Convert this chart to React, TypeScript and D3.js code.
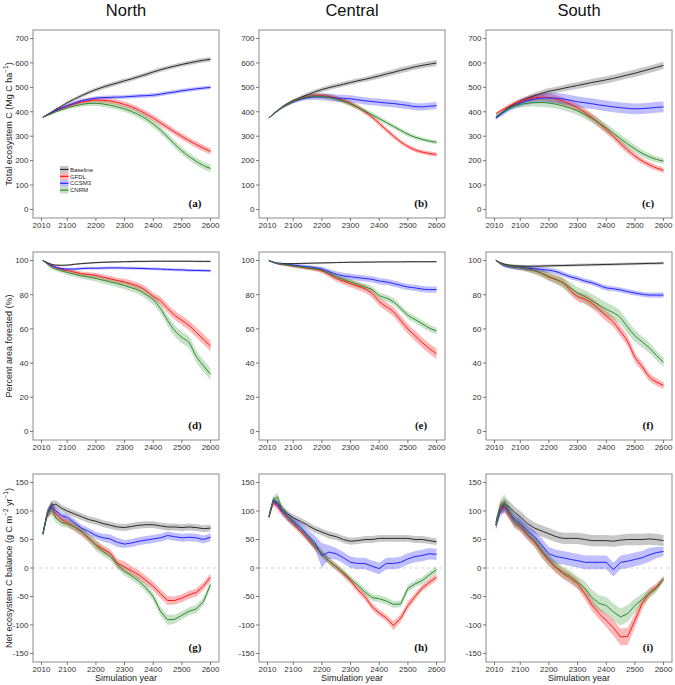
import React from 'react';
import * as d3 from 'd3';

// ---------------- DATA ----------------
const years = [2015, 2030, 2045, 2060, 2080, 2100, 2125, 2150, 2175, 2200, 2225, 2250, 2275, 2300, 2325, 2350, 2375, 2400, 2425, 2450, 2475, 2500, 2525, 2550, 2575, 2600];
const regions = ['North', 'Central', 'South'];
const seriesNames = ['Baseline', 'GFDL', 'CCSM3', 'CNRM'];
const panelLetters = ['a', 'b', 'c', 'd', 'e', 'f', 'g', 'h', 'i'];
const xTicks = [2010, 2100, 2200, 2300, 2400, 2500, 2600];
const tecTicks = [0, 100, 200, 300, 400, 500, 600, 700];
const pafTicks = [0, 20, 40, 60, 80, 100];
const nebTicks = [-150, -100, -50, 0, 50, 100, 150];

// Total ecosystem C (Mg C ha-1)
const tecNorthBaseline = [378, 388, 398, 410, 423, 437, 452, 466, 479, 491, 501, 510, 518, 527, 535, 544, 553, 563, 572, 580, 587, 594, 600, 606, 611, 615];
const tecNorthGFDL = [378, 386, 394, 403, 413, 422, 432, 440, 445, 448, 447, 444, 438, 430, 420, 407, 391, 374, 355, 336, 317, 299, 282, 266, 251, 238];
const tecNorthCCSM3 = [378, 387, 396, 406, 416, 425, 436, 445, 451, 456, 458, 459, 460, 461, 463, 465, 466, 468, 472, 477, 481, 486, 490, 494, 497, 500];
const tecNorthCNRM = [378, 385, 392, 400, 408, 416, 424, 430, 434, 435, 432, 427, 420, 412, 401, 388, 371, 350, 326, 297, 267, 240, 217, 197, 180, 168];
const tecNorthBaselineHw = [2, 3, 4, 5, 6, 7, 7, 8, 8, 9, 9, 9, 9, 9, 9, 9, 9, 9, 9, 9, 9, 9, 9, 9, 9, 9];
const tecNorthGFDLHw = [2, 3, 4, 5, 6, 7, 8, 9, 10, 10, 11, 11, 11, 12, 12, 12, 13, 13, 13, 13, 13, 13, 13, 13, 13, 13];
const tecNorthCCSM3Hw = [2, 3, 4, 5, 6, 7, 8, 8, 8, 8, 8, 8, 8, 8, 8, 8, 8, 8, 8, 8, 8, 8, 8, 8, 8, 8];
const tecNorthCNRMHw = [2, 3, 4, 5, 6, 7, 8, 9, 10, 11, 12, 12, 12, 13, 13, 14, 14, 15, 15, 15, 15, 15, 15, 15, 15, 15];

const tecCentralBaseline = [375, 390, 404, 418, 433, 445, 458, 470, 481, 491, 499, 506, 513, 520, 527, 533, 540, 547, 555, 562, 570, 577, 584, 590, 595, 600];
const tecCentralGFDL = [375, 390, 404, 417, 431, 443, 454, 462, 466, 466, 463, 456, 446, 434, 419, 400, 378, 352, 326, 300, 277, 258, 244, 235, 229, 225];
const tecCentralCCSM3 = [375, 390, 404, 417, 430, 441, 451, 458, 461, 461, 459, 456, 455, 453, 449, 445, 442, 439, 436, 434, 430, 426, 421, 420, 423, 425];
const tecCentralCNRM = [375, 390, 404, 417, 431, 443, 454, 461, 464, 463, 459, 452, 443, 432, 418, 403, 388, 372, 356, 340, 324, 308, 296, 287, 280, 275];
const tecCentralBaselineHw = [2, 3, 4, 5, 6, 7, 8, 9, 10, 10, 10, 10, 10, 10, 10, 10, 11, 11, 11, 11, 12, 12, 12, 12, 12, 12];
const tecCentralGFDLHw = [2, 3, 4, 5, 6, 7, 8, 9, 10, 10, 10, 10, 10, 10, 10, 10, 10, 10, 10, 10, 9, 9, 9, 9, 9, 9];
const tecCentralCCSM3Hw = [2, 3, 4, 5, 6, 7, 8, 10, 12, 14, 15, 15, 15, 15, 15, 15, 15, 15, 15, 15, 15, 15, 15, 15, 15, 15];
const tecCentralCNRMHw = [2, 3, 4, 5, 6, 7, 8, 9, 10, 10, 10, 10, 10, 10, 10, 10, 10, 10, 9, 9, 9, 9, 9, 8, 8, 8];

const tecSouthBaseline = [375, 390, 404, 417, 431, 443, 455, 466, 476, 484, 490, 496, 502, 508, 514, 520, 525, 531, 537, 544, 551, 558, 566, 574, 582, 590];
const tecSouthGFDL = [392, 403, 413, 423, 434, 443, 452, 458, 460, 458, 452, 443, 431, 416, 398, 377, 353, 327, 299, 270, 243, 219, 199, 183, 170, 160];
const tecSouthCCSM3 = [375, 388, 400, 412, 424, 435, 445, 452, 456, 457, 456, 452, 447, 441, 437, 433, 428, 424, 420, 417, 414, 412, 413, 415, 418, 420];
const tecSouthCNRM = [380, 392, 403, 413, 423, 430, 435, 438, 438, 436, 431, 424, 415, 404, 390, 373, 354, 334, 312, 290, 268, 248, 230, 216, 205, 198];
const tecSouthBaselineHw = [5, 6, 7, 8, 9, 10, 11, 12, 12, 13, 13, 13, 14, 14, 14, 14, 15, 15, 15, 15, 15, 15, 15, 15, 15, 15];
const tecSouthGFDLHw = [5, 6, 7, 8, 9, 10, 12, 14, 15, 16, 16, 16, 16, 16, 16, 16, 16, 16, 15, 15, 14, 13, 12, 12, 11, 11];
const tecSouthCCSM3Hw = [8, 9, 10, 11, 12, 14, 16, 18, 20, 22, 22, 22, 22, 22, 22, 22, 22, 22, 22, 22, 22, 22, 22, 22, 22, 22];
const tecSouthCNRMHw = [6, 7, 8, 9, 10, 12, 14, 16, 18, 18, 18, 18, 18, 18, 18, 18, 18, 18, 18, 17, 17, 16, 15, 14, 13, 12];

// Percent area forested (%)
const pafNorthBaseline = [100, 98.8, 97.8, 97.3, 97.2, 97.3, 97.8, 98.2, 98.5, 98.8, 99, 99.1, 99.2, 99.3, 99.4, 99.5, 99.5, 99.6, 99.6, 99.6, 99.6, 99.6, 99.6, 99.5, 99.5, 99.5];
const pafNorthGFDL = [100, 98.5, 97, 96, 94.8, 94.2, 93.2, 92.3, 91.8, 91.3, 90.3, 89.3, 88.3, 87.5, 86.3, 84.8, 82.5, 79, 76.5, 72, 68, 65, 62, 58, 54, 50];
const pafNorthCCSM3 = [100, 98.5, 97, 96, 95.3, 95, 95, 95.3, 95.5, 95.5, 95.6, 95.7, 95.7, 95.6, 95.5, 95.4, 95.3, 95.1, 95, 94.8, 94.6, 94.5, 94.3, 94.2, 94.1, 94];
const pafNorthCNRM = [100, 98, 96, 95, 94, 93, 92, 91, 90.3, 89.5, 88.5, 87.5, 86.5, 85.3, 84, 82.5, 80, 77, 72, 65, 59, 55, 52, 44, 38.5, 33.5];
const pafNorthBaselineHw = [0.3, 0.4, 0.5, 0.5, 0.5, 0.5, 0.5, 0.5, 0.5, 0.5, 0.5, 0.5, 0.5, 0.5, 0.5, 0.5, 0.5, 0.5, 0.5, 0.5, 0.5, 0.5, 0.5, 0.5, 0.5, 0.5];
const pafNorthGFDLHw = [0.3, 0.5, 0.7, 0.8, 1, 1, 1.2, 1.3, 1.4, 1.5, 1.5, 1.6, 1.7, 1.8, 1.9, 2, 2.1, 2.2, 2.3, 2.5, 2.6, 2.7, 2.8, 2.9, 3, 3];
const pafNorthCCSM3Hw = [0.3, 0.5, 0.6, 0.7, 0.8, 0.8, 0.8, 0.8, 0.8, 0.8, 0.8, 0.8, 0.8, 0.8, 0.8, 0.8, 0.8, 0.8, 0.8, 0.8, 0.8, 0.8, 0.8, 0.8, 0.8, 0.8];
const pafNorthCNRMHw = [0.3, 0.6, 0.9, 1.1, 1.3, 1.4, 1.5, 1.6, 1.7, 1.8, 1.9, 2, 2.1, 2.2, 2.3, 2.4, 2.5, 2.7, 2.9, 3.1, 3.3, 3.4, 3.5, 3.5, 3.5, 3.5];

const pafCentralBaseline = [100, 99, 98.5, 98.3, 98.2, 98.2, 98.3, 98.4, 98.5, 98.6, 98.7, 98.8, 98.9, 99, 99, 99.1, 99.1, 99.2, 99.2, 99.2, 99.2, 99.3, 99.3, 99.3, 99.3, 99.3];
const pafCentralGFDL = [100, 99, 98.2, 97.8, 97.3, 96.8, 96.2, 95.5, 95, 94, 92, 89.5, 88, 86.5, 85, 83.5, 80.7, 76, 73, 70, 65, 60, 56, 52, 48.5, 45.5];
const pafCentralCCSM3 = [100, 99, 98.3, 98, 97.7, 97.3, 96.8, 96.3, 95.8, 95, 93.5, 92, 91, 90.5, 90, 89.5, 89, 88, 87.5, 86.5, 85.5, 84.5, 84, 83.3, 83, 83];
const pafCentralCNRM = [100, 99, 98.3, 97.9, 97.4, 96.9, 96.3, 95.8, 95.2, 94.5, 92.5, 90.5, 88.8, 87.5, 86, 84.5, 83, 79.5, 78, 75.8, 72, 68, 65.5, 63, 60.5, 58.8];
const pafCentralBaselineHw = [0.3, 0.4, 0.4, 0.4, 0.4, 0.4, 0.4, 0.4, 0.4, 0.4, 0.4, 0.4, 0.4, 0.4, 0.4, 0.4, 0.4, 0.4, 0.4, 0.4, 0.4, 0.4, 0.4, 0.4, 0.4, 0.4];
const pafCentralGFDLHw = [0.3, 0.5, 0.6, 0.7, 0.8, 0.9, 1, 1.1, 1.2, 1.4, 1.6, 1.8, 2, 2.1, 2.2, 2.3, 2.4, 2.5, 2.6, 2.7, 2.8, 2.9, 3, 3, 3, 3];
const pafCentralCCSM3Hw = [0.3, 0.5, 0.6, 0.7, 0.8, 0.9, 1, 1.1, 1.2, 1.4, 1.6, 1.7, 1.8, 1.8, 1.8, 1.8, 1.8, 1.8, 1.8, 1.8, 1.8, 1.8, 1.8, 1.8, 1.8, 1.8];
const pafCentralCNRMHw = [0.3, 0.5, 0.6, 0.7, 0.8, 0.9, 1, 1.1, 1.2, 1.3, 1.4, 1.5, 1.6, 1.7, 1.8, 1.9, 2, 2, 2, 2, 2, 2, 2, 2, 2, 2];

const pafSouthBaseline = [100, 98.8, 97.8, 97.2, 96.8, 96.7, 96.6, 96.7, 96.8, 96.9, 97, 97.1, 97.2, 97.3, 97.4, 97.5, 97.6, 97.7, 97.8, 97.9, 98, 98.1, 98.2, 98.3, 98.4, 98.5];
const pafSouthGFDL = [100, 98.5, 97.3, 96.8, 96.3, 95.8, 95, 94, 92.5, 90.4, 88.8, 87, 82.5, 79, 77.5, 75, 71.5, 67.5, 64, 58.5, 52.5, 43.5, 38, 32, 29, 27];
const pafSouthCCSM3 = [100, 98.3, 97, 96.5, 96, 95.8, 95.5, 95.2, 94.8, 94.3, 93.5, 92, 90.5, 89.4, 88, 87, 85.5, 84, 83.5, 82.8, 81.8, 81, 80.3, 79.8, 79.8, 79.8];
const pafSouthCNRM = [100, 98.5, 97.3, 96.8, 96.3, 95.8, 95, 94, 92.5, 90.6, 89, 86.8, 84, 81, 79, 76.5, 74, 71.5, 69.5, 66.5, 61, 56, 52.5, 49, 44.5, 40.5];
const pafSouthBaselineHw = [0.3, 0.5, 0.7, 0.8, 0.8, 0.8, 0.8, 0.8, 0.8, 0.8, 0.8, 0.8, 0.8, 0.8, 0.8, 0.8, 0.8, 0.8, 0.8, 0.8, 0.8, 0.8, 0.8, 0.8, 0.8, 0.8];
const pafSouthGFDLHw = [0.3, 0.6, 0.8, 1, 1.2, 1.3, 1.5, 1.7, 1.9, 2.1, 2.3, 2.5, 2.7, 2.8, 2.9, 3, 3, 3, 3, 3, 3, 2.8, 2.6, 2.4, 2.2, 2];
const pafSouthCCSM3Hw = [0.3, 0.8, 1.1, 1.3, 1.4, 1.5, 1.5, 1.5, 1.5, 1.5, 1.5, 1.5, 1.5, 1.5, 1.5, 1.5, 1.5, 1.5, 1.5, 1.5, 1.5, 1.5, 1.5, 1.5, 1.5, 1.5];
const pafSouthCNRMHw = [0.3, 0.6, 0.8, 1, 1.2, 1.4, 1.7, 2, 2.3, 2.6, 2.9, 3.1, 3.3, 3.5, 3.7, 3.9, 4, 4, 4, 4, 3.8, 3.5, 3.2, 3, 2.8, 2.6];

// Net ecosystem C balance (g C m-2 yr-1)
const nebNorthBaseline = [60, 95, 110, 112, 105, 100, 95, 90, 85, 82, 78, 75, 72, 71, 73, 75, 76, 76, 74, 72, 72, 71, 72, 71, 69, 70];
const nebNorthGFDL = [60, 95, 105, 95, 85, 80, 72, 63, 52, 41, 33, 26, 8, 2, -5, -12, -22, -32, -45, -57, -57, -53, -47, -43, -32, -16];
const nebNorthCCSM3 = [60, 95, 108, 100, 92, 89, 80, 70, 64, 57, 53, 51, 45, 42, 44, 47, 49, 51, 53, 57, 55, 53, 54, 53, 50, 54];
const nebNorthCNRM = [60, 95, 105, 88, 80, 78, 72, 64, 53, 40, 29, 20, 6, -6, -14, -23, -35, -50, -76, -91, -90, -83, -76, -72, -59, -29];
const nebNorthBaselineHw = [5, 7, 8, 7, 6, 6, 6, 6, 6, 6, 6, 6, 6, 6, 6, 6, 6, 6, 6, 6, 6, 6, 6, 6, 6, 6];
const nebNorthGFDLHw = [5, 8, 10, 8, 7, 7, 7, 7, 7, 7, 7, 7, 8, 10, 8, 8, 8, 8, 8, 8, 7, 7, 7, 7, 7, 7];
const nebNorthCCSM3Hw = [5, 7, 9, 7, 6, 6, 6, 6, 6, 6, 7, 8, 8, 7, 7, 7, 7, 7, 7, 7, 7, 7, 7, 7, 7, 7];
const nebNorthCNRMHw = [5, 8, 12, 8, 7, 7, 7, 7, 7, 10, 8, 7, 7, 7, 7, 7, 7, 7, 8, 9, 8, 7, 7, 7, 7, 7];

const nebCentralBaseline = [90, 118, 115, 105, 95, 88, 82, 75, 68, 63, 58, 55, 50, 47, 48, 50, 50, 52, 52, 52, 52, 52, 50, 50, 48, 46];
const nebCentralGFDL = [90, 115, 108, 98, 88, 78, 65, 52, 38, 25, 12, 2, -10, -22, -38, -50, -68, -79, -88, -101, -88, -66, -50, -35, -25, -16];
const nebCentralCCSM3 = [90, 118, 112, 100, 90, 82, 72, 58, 45, 22, 28, 25, 18, 10, 8, 8, 3, -1, 8, 8, 10, 16, 20, 22, 25, 24];
const nebCentralCNRM = [90, 120, 125, 105, 90, 80, 68, 55, 40, 25, 12, 2, -8, -20, -30, -42, -52, -54, -58, -64, -63, -36, -28, -22, -12, -3];
const nebCentralBaselineHw = [5, 6, 6, 6, 6, 6, 6, 6, 6, 6, 6, 6, 6, 6, 6, 6, 6, 6, 6, 6, 6, 6, 6, 6, 6, 6];
const nebCentralGFDLHw = [5, 6, 6, 6, 6, 6, 6, 6, 6, 6, 6, 6, 6, 6, 6, 6, 6, 6, 6, 8, 7, 7, 6, 6, 6, 6];
const nebCentralCCSM3Hw = [5, 6, 6, 6, 8, 8, 8, 10, 12, 22, 12, 10, 10, 10, 10, 10, 10, 10, 10, 10, 10, 10, 10, 10, 10, 10];
const nebCentralCNRMHw = [5, 6, 7, 6, 6, 6, 6, 6, 8, 6, 6, 6, 6, 6, 6, 6, 6, 6, 6, 6, 6, 6, 6, 6, 6, 6];

const nebSouthBaseline = [80, 105, 112, 108, 98, 90, 78, 70, 65, 60, 55, 52, 52, 52, 50, 48, 48, 48, 47, 49, 50, 50, 50, 51, 50, 48];
const nebSouthGFDL = [75, 105, 108, 95, 80, 72, 58, 45, 28, 12, 0, -10, -18, -28, -45, -65, -80, -92, -105, -121, -120, -92, -63, -44, -33, -19];
const nebSouthCCSM3 = [75, 100, 108, 98, 85, 78, 65, 55, 40, 25, 20, 18, 15, 13, 10, 10, 10, 10, -3, 10, 12, 15, 18, 23, 27, 29];
const nebSouthCNRM = [75, 108, 115, 100, 80, 75, 60, 48, 30, 15, 2, -8, -15, -25, -35, -52, -62, -66, -77, -86, -80, -66, -55, -45, -36, -19];
const nebSouthBaselineHw = [8, 10, 10, 10, 10, 10, 10, 10, 10, 10, 10, 10, 10, 10, 10, 10, 10, 10, 10, 10, 10, 10, 10, 10, 10, 10];
const nebSouthGFDLHw = [8, 10, 10, 9, 9, 9, 9, 9, 9, 9, 9, 9, 9, 9, 10, 10, 10, 12, 14, 15, 15, 13, 10, 8, 6, 5];
const nebSouthCCSM3Hw = [8, 10, 10, 10, 10, 10, 10, 11, 12, 12, 12, 12, 12, 12, 12, 12, 12, 12, 12, 12, 12, 12, 12, 12, 10, 8];
const nebSouthCNRMHw = [8, 12, 15, 12, 10, 10, 10, 10, 12, 10, 10, 10, 10, 10, 12, 14, 14, 15, 15, 15, 15, 12, 10, 8, 6, 5];

// ---------------- STYLE / LAYOUT ----------------
const lineColors = ['#2b2b2b', '#ff1a1a', '#2424ff', '#2e8b2e'];
const fillColors = ['rgba(0,0,0,0.22)', 'rgba(255,0,0,0.28)', 'rgba(0,0,255,0.25)', 'rgba(34,139,34,0.25)'];
const colLefts = [33, 259, 486];
const rowTops = [30, 252, 474];
const PW = 186;
const PH = 188;
const FONT = 'Liberation Sans, Arial, sans-serif';

const rowsData = [
  {
    ticks: tecTicks, domain: [-35, 735], zero: false,
    regions: [
      [[tecNorthBaseline, tecNorthBaselineHw], [tecNorthGFDL, tecNorthGFDLHw], [tecNorthCCSM3, tecNorthCCSM3Hw], [tecNorthCNRM, tecNorthCNRMHw]],
      [[tecCentralBaseline, tecCentralBaselineHw], [tecCentralGFDL, tecCentralGFDLHw], [tecCentralCCSM3, tecCentralCCSM3Hw], [tecCentralCNRM, tecCentralCNRMHw]],
      [[tecSouthBaseline, tecSouthBaselineHw], [tecSouthGFDL, tecSouthGFDLHw], [tecSouthCCSM3, tecSouthCCSM3Hw], [tecSouthCNRM, tecSouthCNRMHw]],
    ],
  },
  {
    ticks: pafTicks, domain: [-5, 105], zero: false,
    regions: [
      [[pafNorthBaseline, pafNorthBaselineHw], [pafNorthGFDL, pafNorthGFDLHw], [pafNorthCCSM3, pafNorthCCSM3Hw], [pafNorthCNRM, pafNorthCNRMHw]],
      [[pafCentralBaseline, pafCentralBaselineHw], [pafCentralGFDL, pafCentralGFDLHw], [pafCentralCCSM3, pafCentralCCSM3Hw], [pafCentralCNRM, pafCentralCNRMHw]],
      [[pafSouthBaseline, pafSouthBaselineHw], [pafSouthGFDL, pafSouthGFDLHw], [pafSouthCCSM3, pafSouthCCSM3Hw], [pafSouthCNRM, pafSouthCNRMHw]],
    ],
  },
  {
    ticks: nebTicks, domain: [-165, 165], zero: true,
    regions: [
      [[nebNorthBaseline, nebNorthBaselineHw], [nebNorthGFDL, nebNorthGFDLHw], [nebNorthCCSM3, nebNorthCCSM3Hw], [nebNorthCNRM, nebNorthCNRMHw]],
      [[nebCentralBaseline, nebCentralBaselineHw], [nebCentralGFDL, nebCentralGFDLHw], [nebCentralCCSM3, nebCentralCCSM3Hw], [nebCentralCNRM, nebCentralCNRMHw]],
      [[nebSouthBaseline, nebSouthBaselineHw], [nebSouthGFDL, nebSouthGFDLHw], [nebSouthCCSM3, nebSouthCCSM3Hw], [nebSouthCNRM, nebSouthCNRMHw]],
    ],
  },
];

function Panel({ row, col }: { row: number; col: number }) {
  const rd = rowsData[row];
  const left = colLefts[col];
  const top = rowTops[row];
  const x = d3.scaleLinear().domain([1980.5, 2629.5]).range([left, left + PW]);
  const y = d3.scaleLinear().domain(rd.domain).range([top + PH, top]);
  const series = rd.regions[col];
  const curve = row === 2 ? d3.curveLinear : d3.curveMonotoneX;
  const letter = panelLetters[row * 3 + col];
  return (
    <g>
      <rect x={left} y={top} width={PW} height={PH} fill="#fff" />
      {rd.zero && (
        <line x1={left} x2={left + PW} y1={y(0)} y2={y(0)} stroke="#c8c8c8" strokeWidth={0.8} strokeDasharray="3,3" />
      )}
      {series.map(([vals, hw], si) => {
        const a = d3
          .area<number>()
          .x((_, i) => x(years[i]))
          .y0((v, i) => y(v - hw[i]))
          .y1((v, i) => y(v + hw[i]))
          .curve(curve);
        return <path key={'b' + si} d={a(vals) || ''} fill={fillColors[si]} stroke="none" />;
      })}
      {series.map(([vals], si) => {
        const l = d3
          .line<number>()
          .x((_, i) => x(years[i]))
          .y((v) => y(v))
          .curve(curve);
        return <path key={'l' + si} d={l(vals) || ''} fill="none" stroke={lineColors[si]} strokeWidth={1} />;
      })}
      <rect x={left} y={top} width={PW} height={PH} fill="none" stroke="#8c8c8c" strokeWidth={1} />
      {rd.ticks.map((t) => (
        <g key={'yt' + t}>
          <line x1={left - 3} x2={left} y1={y(t)} y2={y(t)} stroke="#555" strokeWidth={0.8} />
          <text x={left - 4.5} y={y(t) + 2.8} fontSize={8} textAnchor="end" fill="#333" fontFamily={FONT}>
            {t}
          </text>
        </g>
      ))}
      {xTicks.map((t) => (
        <g key={'xt' + t}>
          <line x1={x(t)} x2={x(t)} y1={top + PH} y2={top + PH + 3} stroke="#555" strokeWidth={0.8} />
          <text x={x(t)} y={top + PH + 9.5} fontSize={8} textAnchor="middle" fill="#333" fontFamily={FONT}>
            {t}
          </text>
        </g>
      ))}
      <text
        x={left + PW - 24}
        y={top + PH - 11}
        fontSize={11}
        fontWeight="bold"
        textAnchor="middle"
        fontFamily="Liberation Serif, Times New Roman, serif"
        fill="#111"
      >
        ({letter})
      </text>
      {row === 2 && (
        <text x={left + PW / 2} y={top + PH + 19} fontSize={9} textAnchor="middle" fill="#222" fontFamily={FONT}>
          Simulation year
        </text>
      )}
    </g>
  );
}

function Legend() {
  const lx = 60;
  const ly = 166;
  const rh = 6.9;
  return (
    <g>
      {seriesNames.map((n, i) => (
        <g key={n}>
          <rect x={lx} y={ly + i * rh} width={8.5} height={rh} fill={fillColors[i]} />
          <line x1={lx} x2={lx + 8.5} y1={ly + i * rh + rh / 2} y2={ly + i * rh + rh / 2} stroke={lineColors[i]} strokeWidth={1.2} />
          <text x={lx + 10} y={ly + i * rh + rh / 2 + 2.2} fontSize={6} fill="#222" fontFamily={FONT}>
            {n}
          </text>
        </g>
      ))}
    </g>
  );
}

export default function App() {
  const yTitleCenters = rowTops.map((t) => t + PH / 2);
  return (
    <svg width={675} height={685} style={{ position: 'absolute', left: 0, top: 0, background: '#fff' }}>
      <rect x={0} y={0} width={675} height={685} fill="#fff" />
      {regions.map((r, c) => (
        <text key={r} x={colLefts[c] + PW / 2} y={16} fontSize={16.5} textAnchor="middle" fill="#111" fontFamily={FONT}>
          {r}
        </text>
      ))}
      {[0, 1, 2].map((row) => [0, 1, 2].map((col) => <Panel key={row + '-' + col} row={row} col={col} />))}
      <Legend />
      <text transform={`translate(11.5,${yTitleCenters[0]}) rotate(-90)`} fontSize={9} textAnchor="middle" fill="#222" fontFamily={FONT}>
        Total ecosystem C (Mg C ha<tspan dy={-3.5} fontSize={6.5}>−1</tspan><tspan dy={3.5}>)</tspan>
      </text>
      <text transform={`translate(11.5,${yTitleCenters[1]}) rotate(-90)`} fontSize={9} textAnchor="middle" fill="#222" fontFamily={FONT}>
        Percent area forested (%)
      </text>
      <text transform={`translate(11.5,${yTitleCenters[2]}) rotate(-90)`} fontSize={9} textAnchor="middle" fill="#222" fontFamily={FONT}>
        Net ecosystem C balance (g C m<tspan dy={-3.5} fontSize={6.5}>−2</tspan>
        <tspan dy={3.5}> yr</tspan>
        <tspan dy={-3.5} fontSize={6.5}>−1</tspan>
        <tspan dy={3.5}>)</tspan>
      </text>
    </svg>
  );
}
